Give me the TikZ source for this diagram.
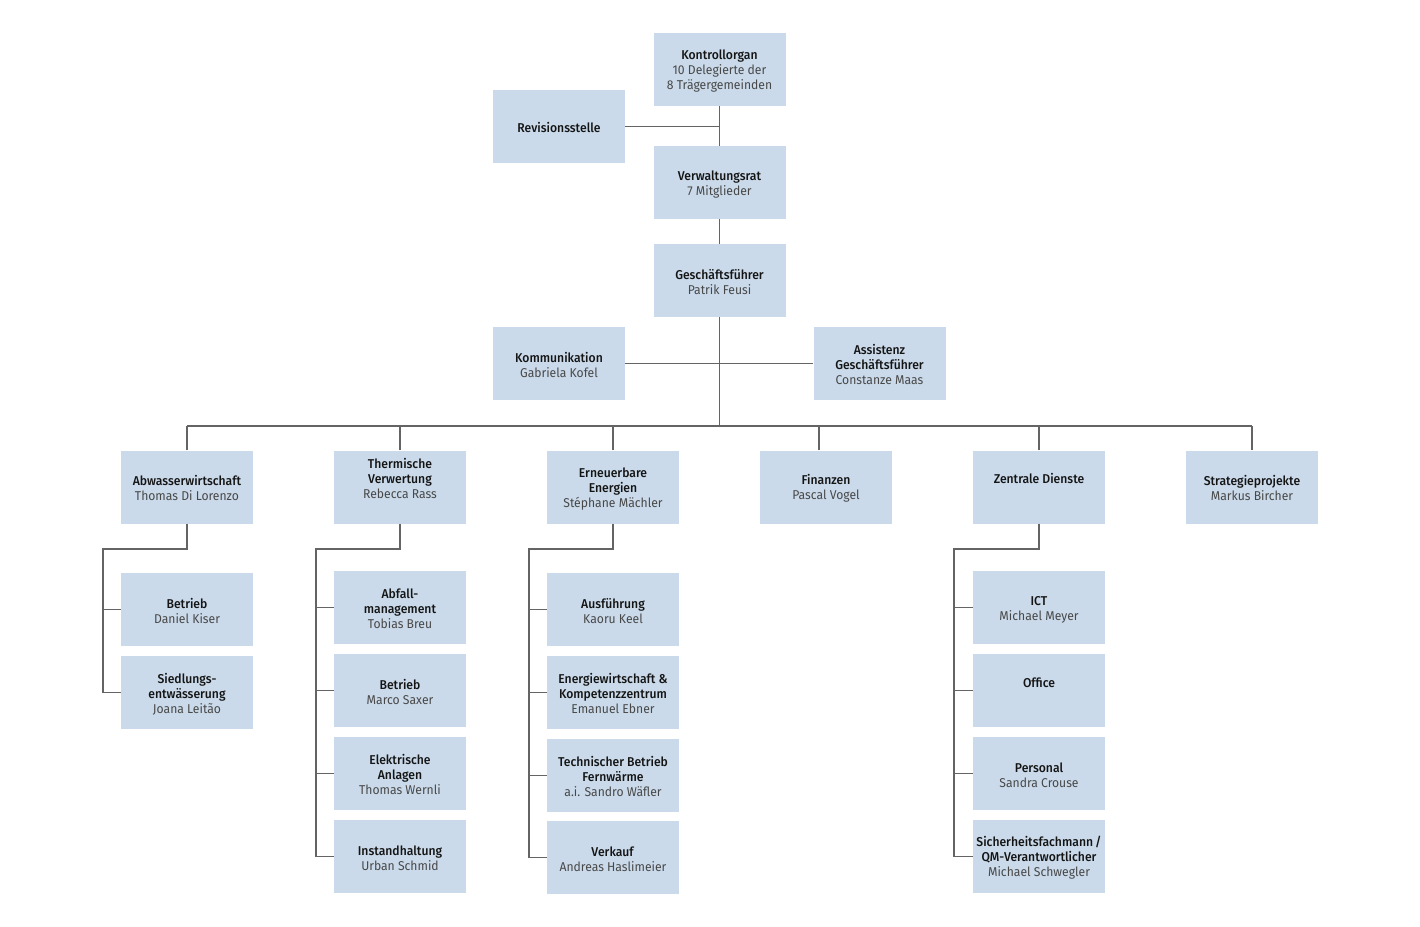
\documentclass[tikz,border=0pt]{standalone}
\usepackage{fontspec}
\setmainfont{Fira Sans}[BoldFont=* Medium, FakeStretch=0.95]
\definecolor{boxfill}{RGB}{202,218,234}
\definecolor{linegray}{RGB}{100,100,100}
\definecolor{titlecol}{RGB}{20,20,20}
\definecolor{namecol}{RGB}{72,72,72}
\newcommand{\ttl}[1]{\textbf{#1}}
\newcommand{\nm}[1]{\textcolor{namecol}{#1}}
% extra height on the first line moves the text block slightly down
\newcommand{\fl}{\rule{0pt}{13pt}}
\begin{document}
\begin{tikzpicture}[x=1pt,y=-1pt,
  orgbox/.style={fill=boxfill, draw=none, minimum width=132pt, minimum height=73pt,
    inner sep=0pt, align=center, text=titlecol,
    font=\fontsize{12.8pt}{15pt}\selectfont},
  link/.style={draw=linegray, line width=1.2pt}]
\useasboundingbox (0,0) rectangle (1420,926);

% top of the organisation
\node[orgbox] (kontroll) at (719.5,69.5) {\fl\ttl{Kontrollorgan}\\ \nm{10 Delegierte der}\\ \nm{8 Trägergemeinden}};
\node[orgbox] (rev) at (559,126.5) {\fl\ttl{Revisionsstelle}};
\node[orgbox] (verw) at (719.5,182.5) {\fl\ttl{Verwaltungsrat}\\ \nm{7 Mitglieder}};
\node[orgbox] (gf) at (719.5,280.5) {\fl\ttl{Geschäftsführer}\\ \nm{Patrik Feusi}};
\node[orgbox] (komm) at (559,363.5) {\fl\ttl{Kommunikation}\\ \nm{Gabriela Kofel}};
\node[orgbox] (assist) at (879.5,363.5) {\fl\ttl{Assistenz}\\ \ttl{Geschäftsführer}\\ \nm{Constanze Maas}};

% departments
\node[orgbox] (abw) at (187,487) {\fl\ttl{Abwasserwirtschaft}\\ \nm{Thomas Di Lorenzo}};
\node[orgbox] (therm) at (400,487) {\fl\ttl{Thermische}\\ \ttl{Verwertung}\\ \nm{Rebecca Rass}\\ \strut};
\node[orgbox] (erneu) at (613,487) {\fl\ttl{Erneuerbare}\\ \ttl{Energien}\\ \nm{Stéphane Mächler}};
\node[orgbox] (fin) at (826,487) {\fl\ttl{Finanzen}\\ \nm{Pascal Vogel}};
\node[orgbox] (zent) at (1039,487) {\fl\ttl{Zentrale Dienste}\\ \strut};
\node[orgbox] (strat) at (1252,487) {\fl\ttl{Strategieprojekte}\\ \nm{Markus Bircher}};

% Abwasserwirtschaft
\node[orgbox] (abw1) at (187,609.5) {\fl\ttl{Betrieb}\\ \nm{Daniel Kiser}};
\node[orgbox] (abw2) at (187,692.5) {\fl\ttl{Siedlungs-}\\ \ttl{entwässerung}\\ \nm{Joana Leitão}};

% Thermische Verwertung
\node[orgbox] (th1) at (400,607.5) {\fl\ttl{Abfall-}\\ \ttl{management}\\ \nm{Tobias Breu}};
\node[orgbox] (th2) at (400,690.5) {\fl\ttl{Betrieb}\\ \nm{Marco Saxer}};
\node[orgbox] (th3) at (400,773.5) {\fl\ttl{Elektrische}\\ \ttl{Anlagen}\\ \nm{Thomas Wernli}};
\node[orgbox] (th4) at (400,856.5) {\fl\ttl{Instandhaltung}\\ \nm{Urban Schmid}};

% Erneuerbare Energien
\node[orgbox] (en1) at (613,609.5) {\fl\ttl{Ausführung}\\ \nm{Kaoru Keel}};
\node[orgbox] (en2) at (613,692.5) {\fl\ttl{Energiewirtschaft \&}\\ \ttl{Kompetenzzentrum}\\ \nm{Emanuel Ebner}};
\node[orgbox] (en3) at (613,775.5) {\fl\ttl{Technischer Betrieb}\\ \ttl{Fernwärme}\\ \nm{a.i. Sandro Wäfler}};
\node[orgbox] (en4) at (613,857.5) {\fl\ttl{Verkauf}\\ \nm{Andreas Haslimeier}};

% Zentrale Dienste
\node[orgbox] (zd1) at (1039,607.5) {\fl\ttl{ICT}\\ \nm{Michael Meyer}};
\node[orgbox] (zd2) at (1039,690.5) {\fl\ttl{Office}\\ \strut};
\node[orgbox] (zd3) at (1039,773.5) {\fl\ttl{Personal}\\ \nm{Sandra Crouse}};
\node[orgbox] (zd4) at (1039,856.5) {\fl\ttl{Sicherheitsfachmann\,/}\\ \ttl{QM-Verantwortlicher}\\ \nm{Michael Schwegler}};

% junction points
\coordinate (bus) at (0,426);
\coordinate (abwE) at (103,549);
\coordinate (thE) at (316,549);
\coordinate (enE) at (529,549);
\coordinate (zdE) at (954,549);
\coordinate (finTop) at (819,426);

% top chain
\draw[link] (kontroll) -- (verw);
\draw[link] (verw) -- (gf);
\draw[link] (rev.east) -- (rev.east -| kontroll.south);
\draw[link] (komm.east) -- (assist.west);
\draw[link] (gf.south) -- (gf.south |- bus);

% department bus
\draw[link] (abw.north |- bus) -- (strat.north |- bus);
\draw[link] (abw.north) -- (abw.north |- bus);
\draw[link] (therm.north) -- (therm.north |- bus);
\draw[link] (erneu.north) -- (erneu.north |- bus);
\draw[link] (fin.north -| finTop) -- (finTop);
\draw[link] (zent.north) -- (zent.north |- bus);
\draw[link] (strat.north) -- (strat.north |- bus);

% sub-units
\draw[link] (abw.south) |- (abwE) -- (abwE |- abw2.west) -- (abw2.west);
\draw[link] (abw1.west) -- (abw1.west -| abwE);

\draw[link] (therm.south) |- (thE) -- (thE |- th4.west) -- (th4.west);
\foreach \n in {th1,th2,th3} \draw[link] (\n.west) -- (\n.west -| thE);

\draw[link] (erneu.south) |- (enE) -- (enE |- en4.west) -- (en4.west);
\foreach \n in {en1,en2,en3} \draw[link] (\n.west) -- (\n.west -| enE);

\draw[link] (zent.south) |- (zdE) -- (zdE |- zd4.west) -- (zd4.west);
\foreach \n in {zd1,zd2,zd3} \draw[link] (\n.west) -- (\n.west -| zdE);
\end{tikzpicture}
\end{document}
